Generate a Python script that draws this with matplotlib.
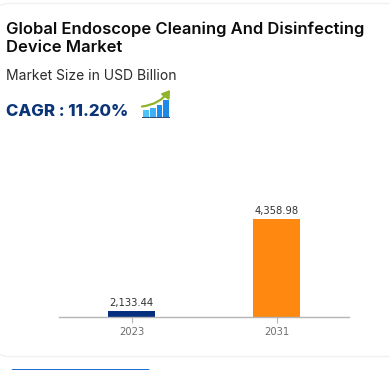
import matplotlib
matplotlib.use("Agg")
import matplotlib.pyplot as plt
from matplotlib.patches import FancyArrowPatch, FancyBboxPatch, Rectangle

years = ["2023", "2031"]
values = [2133.44, 4358.98]
value_labels = ["2,133.44", "4,358.98"]
bar_colors = ["#06307f", "#ff8811"]

title_lines = ["Global Endoscope Cleaning And Disinfecting", "Device Market"]
subtitle = "Market Size in USD Billion"
cagr_text = "CAGR : 11.20%"

W, H = 390, 370

plt.rcParams["font.family"] = ["Inter", "DejaVu Sans"]

fig = plt.figure(figsize=(W / 100, H / 100), dpi=100, facecolor="white")

# page layer in pixel coords, y going down
bg = fig.add_axes([0, 0, 1, 1])
bg.set_xlim(0, W)
bg.set_ylim(H, 0)
bg.axis("off")

bg.add_patch(FancyBboxPatch((-4, 3.5), W + 30, 353, boxstyle="round,pad=0,rounding_size=12",
                            fc="white", ec="#f0f0f0", lw=1))
bg.add_patch(FancyBboxPatch((11, 369), 139, 10, boxstyle="round,pad=0,rounding_size=2",
                            fc="#1a6fd0", ec="none"))

bg.text(5.5, 29, title_lines[0], fontsize=11.95, fontweight="semibold", color="#0c0c0c", va="center")
bg.text(5.5, 47.5, title_lines[1], fontsize=11.95, fontweight="semibold", color="#0c0c0c", va="center")
bg.text(5.5, 76, subtitle, fontsize=10.0, color="#2b2b2b", va="center")
bg.text(5.5, 111.5, cagr_text, fontsize=12.1, fontweight="heavy", color="#0b3578", va="center")

# small growth icon
icon_bars = [(143, 148.5, 110, "#4fc3f7"), (150, 155.5, 107.5, "#3fb0f7"),
             (156.8, 162, 105, "#1490f5"), (163.3, 168.7, 99.5, "#1e88e5")]
for x0, x1, top, c in icon_bars:
    bg.add_patch(Rectangle((x0, top), x1 - x0, 117 - top, fc=c, ec="none"))
bg.add_patch(Rectangle((142, 117), 28, 1.3, fc="#33507a", ec="none"))
bg.add_patch(FancyArrowPatch((142, 106.5), (170, 90), connectionstyle="arc3,rad=0.22",
                             arrowstyle="-|>,head_length=3,head_width=2", color="#8fb32a", lw=1.6,
                             shrinkA=0, shrinkB=0, mutation_scale=1.4))

# chart
left, right, top, base = 59, 349, 150, 316.5
ax = fig.add_axes([left / W, 1 - base / H, (right - left) / W, (base - top) / H])
ax.patch.set_alpha(0)
x = [0, 1]
ax.bar(x, values, width=47 / 145, color=bar_colors, zorder=2)
ax.set_xlim(-0.5, 1.5)
ax.set_ylim(2012, 2012 + (base - top) * 24.19)
ax.set_xticks(x, years)
ax.set_yticks([])
for s in ["top", "left", "right"]:
    ax.spines[s].set_visible(False)
ax.spines["bottom"].set_color("#b5b5b5")
ax.spines["bottom"].set_linewidth(1)
ax.tick_params(axis="x", length=4, width=0.8, color="#b5b5b5", labelcolor="#6e6e6e", labelsize=7.2, pad=3.5,
               labelfontfamily="DejaVu Sans")
for xi, v, lab in zip(x, values, value_labels):
    ax.annotate(lab, (xi, v), xytext=(0, 2.5), textcoords="offset points", ha="center", va="bottom",
                fontsize=7.2, color="#333333", family="DejaVu Sans")

fig.savefig("out.png", dpi=100)
plt.close(fig)
